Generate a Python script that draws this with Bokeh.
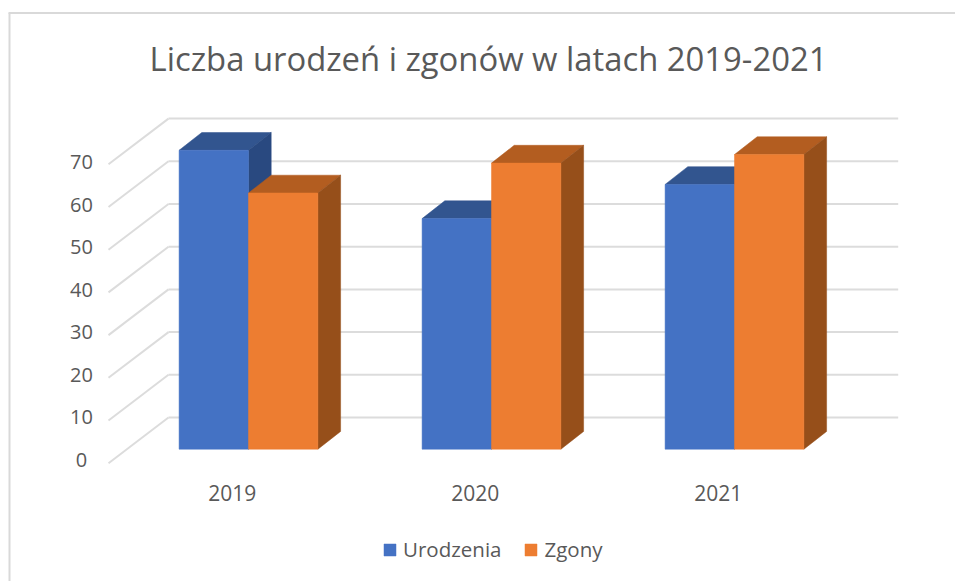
from bokeh.plotting import figure
from bokeh.models import Range1d, Legend, LegendItem
from bokeh.core.properties import value
from bokeh.embed import file_html
from bokeh.resources import INLINE

TITLE = "Liczba urodzeń i zgonów w latach 2019-2021"
years = ["2019", "2020", "2021"]
series_names = ["Urodzenia", "Zgony"]
urodzenia = [70, 54, 62]
zgony = [60, 67, 69]
axis_ticks = [0, 10, 20, 30, 40, 50, 60, 70]

W, H = 955, 581
LEFT, TOP = 0, 0
CAT_PX, UNIT_PX = 243.0, 4.27
ZERO_X, ZERO_Y = 248.0, 448.7

def dx(px):
    return (px - ZERO_X) / CAT_PX

def dy(px):
    return (ZERO_Y - px) / UNIT_PX

p = figure(width=W, height=H, output_backend="svg", toolbar_location=None,
           x_range=Range1d(dx(LEFT), dx(LEFT + W)),
           y_range=Range1d(dy(TOP + H), dy(TOP)),
           min_border=0, min_border_left=0, min_border_right=0,
           min_border_top=0, min_border_bottom=0)
p.xaxis.visible = False
p.yaxis.visible = False
p.grid.visible = False
p.outline_line_color = None
p.background_fill_color = "white"

GREY = "#595959"
GRID = "#dcdcdc"
FONT = value("Open Sans")

# chart frame
p.line([dx(8), dx(LEFT + W)], [dy(12.5)] * 2, line_color="#d9d9d9", line_width=2)
p.line([dx(9)] * 2, [dy(12.5), dy(TOP + H)], line_color="#d9d9d9", line_width=2)

# 3D walls: the value grid sits on the back wall and runs diagonally to the front
WALL_FRONT_X, WALL_BACK_X, WALL_END_X = dx(108), dx(168), dx(897.7)
WALL_BACK_DY = dy(417)
WALL_FRONT_DY = dy(462.7)
for t in axis_ticks:
    p.line([WALL_BACK_X, WALL_END_X], [t + WALL_BACK_DY] * 2, line_color=GRID, line_width=2)
    p.line([WALL_FRONT_X, WALL_BACK_X], [t + WALL_FRONT_DY, t + WALL_BACK_DY],
           line_color=GRID, line_width=2)

# 3D bars
BAR_W = 69.4 / CAT_PX
DEPTH_X = 22.7 / CAT_PX
DEPTH_Y = 17.8 / UNIT_PX
colors = [("#4472C4", "#32558F", "#294980"), ("#ED7D31", "#B35D20", "#964F1A")]
legend_items = []
for i in range(len(years)):
    for s, vals in enumerate([urodzenia, zgony]):
        v = vals[i]
        front, top, side = colors[s]
        x0 = i + (s - 1) * BAR_W
        x1 = x0 + BAR_W
        p.patch([x0, x1, x1 + DEPTH_X, x0 + DEPTH_X],
                [v, v, v + DEPTH_Y, v + DEPTH_Y], fill_color=top, line_color=top, line_width=0.5)
        p.patch([x1, x1 + DEPTH_X, x1 + DEPTH_X, x1],
                [0, DEPTH_Y, v + DEPTH_Y, v], fill_color=side, line_color=side, line_width=0.5)
        r = p.quad(left=[x0], right=[x1], bottom=[0], top=[v],
                   fill_color=front, line_color=front, line_width=0.5)
        if i == 0:
            legend_items.append(LegendItem(label=series_names[s], renderers=[r]))

# value labels, on the front edge of the wall
TICK_STEP_PX = 42.45
for t in axis_ticks:
    p.text([dx(81)], [dy(459 - t * TICK_STEP_PX / 10)], text=[str(t)], text_font=FONT,
           text_font_size="20px", text_color=GREY, text_align="center", text_baseline="middle")

# category labels
LABEL_SHIFT = -16.3 / CAT_PX
p.text([i + LABEL_SHIFT for i in range(len(years))], [dy(492.5)] * len(years), text=years,
       text_font=FONT, text_font_size="21px", text_color=GREY,
       text_align="center", text_baseline="middle")

# title
p.text([dx(488)], [dy(57.5)], text=[TITLE], text_font=FONT, text_font_size="32.8px",
       text_color=GREY, text_align="center", text_baseline="middle")

legend = Legend(items=legend_items, orientation="horizontal",
                location=(382, 18), border_line_color=None, background_fill_alpha=0,
                glyph_width=15, glyph_height=15, label_text_font="Open Sans",
                label_text_font_size="20.5px", label_text_color=GREY,
                spacing=22, padding=0, margin=0, label_standoff=6)
p.add_layout(legend)

open("out.html", "w").write(file_html(p, INLINE))
